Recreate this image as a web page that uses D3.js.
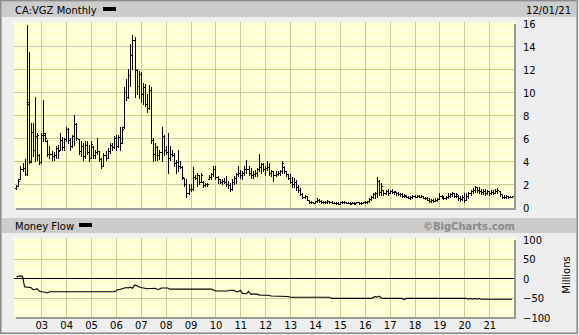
<!DOCTYPE html>
<html>
<head>
<meta charset="utf-8">
<script src="https://cdn.jsdelivr.net/npm/d3@7"></script>
<style>
body { margin: 0; background: #eeeeee; }
svg { display: block; }
</style>
</head>
<body>
<div id="chart"></div>
<script>
// Monthly OHLC, Jan 2002 .. Dec 2021 (one row per year)
const openVals = [
  1.65,1.8,2.4,3.3,3.4,2.9,9.0,4.0,6.5,5.0,6.2,4.5,
  3.9,6.3,6.3,5.7,4.6,4.6,4.4,4.5,5.1,5.0,5.8,5.2,
  5.9,6.8,5.8,5.3,6.2,7.2,5.9,4.9,5.3,4.4,5.4,4.8,
  4.3,5.2,4.5,4.8,4.9,4.2,3.6,4.5,4.3,4.9,5.4,5.2,
  6.0,5.3,6.1,5.6,7.0,10.0,9.6,11.5,13.2,14.5,11.9,10.5,
  11.6,9.8,10.4,9.0,8.6,10.2,5.8,4.6,5.2,4.5,4.8,6.2,
  5.0,4.8,4.3,4.6,4.5,3.8,3.9,3.6,3.5,2.5,2.0,1.2,
  1.6,1.6,2.6,2.5,2.8,2.2,2.2,1.9,2.0,2.4,2.6,2.9,
  3.3,2.6,2.4,2.2,2.3,2.2,2.0,1.9,1.6,2.2,2.5,2.9,
  3.0,2.8,3.0,3.3,3.3,3.0,2.8,2.9,3.0,3.3,3.5,3.7,
  3.3,3.4,3.5,3.0,3.1,2.8,2.9,3.0,3.1,3.5,3.1,2.9,
  2.5,2.2,2.0,2.2,1.7,1.5,1.1,0.85,0.95,0.6,0.4,0.45,
  0.38,0.5,0.65,0.55,0.45,0.4,0.45,0.5,0.42,0.38,0.35,0.32,
  0.3,0.4,0.45,0.4,0.38,0.35,0.32,0.38,0.32,0.4,0.32,0.35,
  0.4,0.42,0.5,0.7,0.85,1.1,1.2,2.3,1.3,1.45,1.2,1.4,
  1.2,1.4,1.3,1.3,1.2,1.15,1.1,1.0,1.0,0.9,0.8,0.9,
  0.95,0.9,0.95,0.9,0.95,0.8,0.75,0.65,0.55,0.6,0.5,0.65,
  0.7,1.0,0.9,0.8,0.85,1.0,1.1,1.2,1.0,1.0,0.8,0.7,
  0.9,0.6,1.0,1.2,1.4,1.5,1.7,1.5,1.4,1.3,1.4,1.2,
  1.35,1.2,1.3,1.25,1.4,1.4,1.1,0.9,0.85,0.95,0.85,0.9
];
const highVals = [
  1.9,2.4,3.6,3.8,4.2,15.8,13.5,7.3,7.3,9.6,6.4,4.6,
  6.4,9.3,6.4,5.8,5.3,4.9,4.8,5.3,5.4,6.4,6.1,6.0,
  7.0,6.9,6.0,6.3,8.0,7.3,5.9,5.7,5.6,5.7,5.7,5.4,
  5.7,5.3,5.0,6.0,4.9,4.3,4.7,4.9,5.1,5.6,5.6,6.2,
  6.3,6.3,7.0,7.0,10.4,11.1,12.0,14.2,15.0,14.8,12.0,11.8,
  11.7,10.8,10.7,9.8,10.6,10.4,6.0,5.6,5.3,5.0,7.0,6.3,
  5.3,6.4,5.3,5.0,4.7,4.1,5.0,4.0,3.6,2.5,2.4,2.0,
  2.0,3.5,2.8,3.0,2.8,3.0,2.25,2.1,2.1,2.8,3.0,3.55,
  3.55,2.7,2.4,2.4,2.5,2.7,2.25,2.1,2.4,2.7,3.0,3.55,
  3.26,3.1,3.55,4.1,3.55,3.4,3.1,3.26,3.4,4.6,3.84,3.84,
  3.55,4.0,3.8,3.26,3.1,3.1,3.1,3.26,4.0,3.55,3.1,2.9,
  2.9,2.6,2.5,2.35,1.9,1.62,1.19,1.04,0.96,0.6,0.55,0.46,
  0.55,0.75,0.67,0.6,0.55,0.52,0.6,0.55,0.52,0.46,0.41,0.41,
  0.46,0.55,0.55,0.46,0.46,0.46,0.43,0.43,0.46,0.43,0.43,0.46,
  0.49,0.55,0.75,0.96,1.19,1.33,2.64,2.35,2.06,1.48,1.48,1.54,
  1.48,1.54,1.42,1.33,1.3,1.25,1.19,1.13,1.04,0.96,0.96,1.04,
  1.04,1.01,1.04,1.01,0.96,0.9,0.84,0.75,0.7,0.67,0.75,0.78,
  1.19,1.04,0.96,0.96,1.19,1.25,1.33,1.25,1.19,1.04,0.96,1.04,
  1.19,1.19,1.33,1.48,1.62,1.83,1.77,1.71,1.54,1.54,1.54,1.48,
  1.42,1.48,1.48,1.54,1.62,1.42,1.13,1.04,1.04,0.96,0.99,0.96
];
const lowVals = [
  1.6,1.9,2.4,3.1,2.8,2.8,3.8,3.9,4.4,4.0,4.1,3.7,
  3.8,5.7,5.7,4.4,4.3,4.1,4.1,4.3,4.3,5.0,5.0,5.0,
  5.7,5.6,5.0,5.2,5.4,5.8,4.6,4.4,4.1,4.3,4.6,4.0,
  4.3,4.3,4.3,4.6,4.0,3.4,3.6,4.1,4.3,4.7,5.0,5.1,
  5.0,5.2,5.0,5.6,6.9,9.3,9.5,10.5,12.0,9.6,9.8,9.5,
  9.1,9.0,8.8,8.3,8.5,5.6,4.0,4.1,4.1,4.2,4.0,4.5,
  4.6,3.0,4.1,4.4,3.6,3.0,3.1,3.4,2.4,1.8,0.9,1.1,
  1.4,1.5,2.4,1.8,2.0,2.2,1.7,1.8,1.8,2.4,2.4,2.7,
  2.4,2.1,2.1,1.96,2.1,1.8,1.67,1.4,1.5,1.96,2.1,2.7,
  2.5,2.4,2.8,3.0,2.8,2.5,2.5,2.7,2.7,3.1,3.0,3.1,
  2.8,3.26,2.8,2.7,2.25,2.7,2.8,2.8,2.97,2.97,2.7,2.4,
  2.05,1.77,1.77,1.48,1.33,1.04,0.75,0.75,0.6,0.32,0.32,0.32,
  0.32,0.46,0.46,0.38,0.32,0.32,0.38,0.38,0.32,0.32,0.26,0.26,
  0.26,0.32,0.32,0.32,0.32,0.26,0.32,0.26,0.32,0.26,0.26,0.32,
  0.32,0.32,0.46,0.6,0.75,0.75,0.9,1.04,1.04,1.04,1.13,1.04,
  1.19,1.19,1.13,1.04,1.04,0.96,0.9,0.9,0.84,0.75,0.72,0.75,
  0.84,0.84,0.84,0.84,0.75,0.67,0.61,0.46,0.46,0.46,0.5,0.55,
  0.7,0.75,0.67,0.67,0.75,0.84,0.96,0.9,0.9,0.61,0.55,0.61,
  0.46,0.6,0.75,1.04,1.19,1.33,1.33,1.25,1.13,1.13,1.04,1.13,
  1.04,1.13,1.13,1.19,1.25,0.96,0.75,0.75,0.75,0.75,0.84,0.84
];
const closeVals = [
  1.8,2.3,3.3,3.4,2.9,9.1,3.9,6.5,5.0,6.2,6.3,3.9,
  6.3,6.4,6.0,4.6,4.6,4.4,4.5,5.1,4.9,5.8,5.2,5.9,
  6.8,5.8,5.3,6.2,7.2,6.0,4.9,5.3,4.4,5.4,4.8,4.3,
  5.5,4.5,4.8,4.9,4.2,3.6,4.5,4.3,4.9,5.4,5.2,6.0,
  5.3,6.1,5.6,6.8,10.0,9.6,11.5,13.2,14.5,11.9,10.5,11.6,
  9.8,10.4,9.0,8.6,10.2,5.8,4.6,5.2,4.5,4.8,6.2,5.0,
  4.8,4.3,4.6,4.5,3.8,3.9,3.6,3.5,2.6,2.0,1.2,1.6,
  1.6,2.6,2.5,2.8,2.2,2.8,1.9,2.0,2.0,2.6,2.9,3.3,
  2.6,2.4,2.2,2.3,2.2,2.0,1.9,1.6,2.2,2.5,2.9,3.0,
  2.8,3.0,3.3,3.3,3.0,2.8,2.9,3.0,3.3,3.5,3.7,3.3,
  3.4,3.5,3.0,3.1,2.8,2.9,3.0,3.1,3.8,3.1,2.9,2.5,
  2.2,2.0,2.2,1.7,1.5,1.1,0.85,0.95,0.65,0.4,0.45,0.38,
  0.5,0.65,0.55,0.45,0.4,0.45,0.5,0.42,0.38,0.35,0.32,0.3,
  0.4,0.45,0.4,0.38,0.35,0.3,0.38,0.3,0.4,0.32,0.35,0.4,
  0.42,0.5,0.7,0.85,1.1,1.2,2.3,1.3,1.8,1.2,1.4,1.2,
  1.4,1.3,1.35,1.2,1.15,1.1,1.0,1.05,0.9,0.8,0.9,0.95,
  0.9,0.95,0.9,0.95,0.8,0.75,0.65,0.55,0.6,0.5,0.65,0.7,
  1.0,0.9,0.8,0.85,1.0,1.1,1.2,1.0,1.1,0.8,0.7,0.9,
  0.6,1.0,1.2,1.4,1.5,1.7,1.5,1.4,1.3,1.4,1.2,1.35,
  1.2,1.3,1.25,1.4,1.5,1.1,0.9,0.85,0.95,0.85,0.9,0.92
];

// Money flow (millions), read at the turning points of the line
const mfMonths = ["2002-01","2002-03","2002-04","2002-05","2002-06","2002-08","2002-09","2002-10","2002-11","2002-12",
  "2003-01","2003-03","2003-04","2003-05","2005-12","2006-01","2006-02","2006-03","2006-04","2006-06","2006-07",
  "2006-08","2006-09","2006-10","2006-11","2006-12","2007-01","2007-03","2007-04","2007-08","2007-09","2007-10",
  "2007-11","2008-02","2008-03","2009-11","2009-12","2010-01","2010-07","2010-08","2010-10","2010-11","2010-12",
  "2011-01","2011-02","2011-04","2011-05","2011-06","2011-09","2011-10","2011-11","2012-02","2012-04","2012-12",
  "2013-01","2014-08","2014-09","2016-04","2016-05","2016-06","2016-07","2016-08","2016-09","2016-10","2017-07",
  "2017-08","2017-09","2020-02","2020-03","2020-04","2020-05","2020-06","2020-07","2020-08","2020-09","2021-12"];
const mfValues = [4,6,5,-22,-23,-24,-29,-29,-27,-33,
  -35,-36,-38,-35,-35,-33,-29,-29,-27,-24,-25,
  -23,-26,-18,-19,-22,-24,-26,-27,-26,-29,-28,
  -25,-25,-28,-28,-30,-33,-33,-31,-31,-35,-35,
  -31,-39,-40,-34,-41,-41,-43,-44,-44,-46,-47,
  -49,-49,-52,-52,-50,-47,-49,-46,-51,-52,-52,
  -55,-52,-52,-54,-52,-54,-52,-54,-52,-54,-54];

const yearTicks = [2003,2004,2005,2006,2007,2008,2009,2010,2011,2012,2013,2014,2015,2016,2017,2018,2019,2020,2021];
const yearLabels = ["03","04","05","06","07","08","09","10","11","12","13","14","15","16","17","18","19","20","21"];
const priceTicks = [0,2,4,6,8,10,12,14,16];
const mfTicks = [100,50,0,-50,-100];

const FONT = "'DejaVu Sans', Verdana, sans-serif";
const GRID = "#cbcb96";

const parseMonth = d3.timeParse("%Y-%m");
const months = d3.timeMonth.range(new Date(2002, 0, 1), new Date(2022, 0, 1));
const bars = months.map((d, i) => ({date: d, o: openVals[i], h: highVals[i], l: lowVals[i], c: closeVals[i]}));
const mf = mfMonths.map((m, i) => ({date: parseMonth(m), v: mfValues[i]}));
const yearDates = yearTicks.map(y => new Date(y, 0, 1));

const svg = d3.select("#chart").append("svg")
    .attr("width", 579)
    .attr("height", 335)
    .style("font-family", FONT);

// dithered yellow fill like the original
const pat = svg.append("defs").append("pattern")
    .attr("id", "dots").attr("width", 2).attr("height", 2)
    .attr("patternUnits", "userSpaceOnUse");
pat.append("rect").attr("width", 2).attr("height", 2).attr("fill", "#ffffe6");
pat.append("rect").attr("width", 1).attr("height", 1).attr("fill", "#ffffc6");
pat.append("rect").attr("x", 1).attr("y", 1).attr("width", 1).attr("height", 1).attr("fill", "#ffffc6");

svg.append("rect").attr("width", 579).attr("height", 335).attr("fill", "#eeeeee");

//Header bars
svg.append("rect").attr("x", 2).attr("y", 2).attr("width", 575).attr("height", 15).attr("fill", "#cccccc");
svg.append("rect").attr("x", 2).attr("y", 218).attr("width", 575).attr("height", 15).attr("fill", "#cccccc");

svg.append("text").attr("x", 15).attr("y", 14).attr("font-size", 10).text("CA:VGZ Monthly");
svg.append("rect").attr("x", 103).attr("y", 7).attr("width", 13).attr("height", 4).attr("fill", "#000");
svg.append("text").attr("x", 571).attr("y", 14).attr("font-size", 10).attr("text-anchor", "end").text("12/01/21");

svg.append("text").attr("x", 15).attr("y", 230).attr("font-size", 10).text("Money Flow");
svg.append("rect").attr("x", 79).attr("y", 223).attr("width", 13).attr("height", 4).attr("fill", "#000");
svg.append("text").attr("x", 515).attr("y", 229.5).attr("font-size", 10).attr("font-weight", "bold")
    .attr("fill", "#8a8a8a").attr("text-anchor", "end").text("\u00a9BigCharts.com");

//Scales
const x = d3.scaleTime().domain([new Date(2001, 10, 27), new Date(2021, 11, 30)]).range([14, 514]);
const y = d3.scaleLinear().domain([0, 16]).range([207, 23]);
const yMf = d3.scaleLinear().domain([-100, 100]).range([317, 239.5]);

const crisp = v => Math.round(v) + 0.5;

//Plot panels with a shadow on the right and bottom
function panel(top, bottom) {
    svg.append("rect").attr("x", 16).attr("y", top + 2).attr("width", 500).attr("height", bottom - top)
        .attr("fill", "#9a9a9a");
    svg.append("rect").attr("x", 14).attr("y", top).attr("width", 500).attr("height", bottom - top)
        .attr("fill", "url(#dots)");
}
panel(22, 208);
panel(238, 317);

//Grid lines
const grid = svg.append("g").attr("stroke", GRID).attr("stroke-width", 1).attr("shape-rendering", "crispEdges");
[[22, 208], [238, 317]].forEach(([t, b]) => {
    grid.selectAll(null).data(yearDates).enter().append("line")
        .attr("x1", d => crisp(x(d))).attr("x2", d => crisp(x(d)))
        .attr("y1", t).attr("y2", b);
});
grid.selectAll(null).data(priceTicks.filter(v => v > 0 && v < 16)).enter().append("line")
    .attr("x1", 14).attr("x2", 514)
    .attr("y1", d => crisp(y(d))).attr("y2", d => crisp(y(d)));
grid.selectAll(null).data([50, -50]).enter().append("line")
    .attr("x1", 14).attr("x2", 514)
    .attr("y1", d => crisp(yMf(d))).attr("y2", d => crisp(yMf(d)));

//OHLC bars
svg.append("g")
    .attr("stroke", "#000").attr("fill", "none").attr("stroke-width", 1)
    .attr("shape-rendering", "crispEdges")
    .selectAll("path").data(bars).enter().append("path")
    .attr("d", d => {
        const cx = crisp(x(d.date));
        const yh = Math.round(y(d.h)), yl = Math.round(y(d.l)) + 1;
        const yo = crisp(y(d.o)), yc = crisp(y(d.c));
        return "M" + cx + "," + yh + "V" + yl +
               "M" + (cx - 1.5) + "," + yo + "H" + cx +
               "M" + cx + "," + yc + "H" + (cx + 1.5);
    });

//Money flow zero line and line
svg.append("line").attr("x1", 14).attr("x2", 514)
    .attr("y1", crisp(yMf(0))).attr("y2", crisp(yMf(0)))
    .attr("stroke", "#000").attr("shape-rendering", "crispEdges");

const mfLine = d3.line().x(d => x(d.date)).y(d => yMf(d.v));
svg.append("path").datum(mf)
    .attr("d", mfLine)
    .attr("fill", "none").attr("stroke", "#000").attr("stroke-width", 1.1);

//Axes (labels only)
const yAxis = svg.append("g").attr("transform", "translate(523,0)")
    .call(d3.axisRight(y).tickValues(priceTicks).tickSize(0).tickPadding(0));
const mfAxis = svg.append("g").attr("transform", "translate(523,0)")
    .call(d3.axisRight(yMf).tickValues(mfTicks).tickSize(0).tickPadding(0)
        .tickFormat(d => d < 0 ? "\u2212" + Math.abs(d) : d));
const xAxis = svg.append("g").attr("transform", "translate(0,322)")
    .call(d3.axisBottom(x).tickValues(yearDates).tickSize(0).tickPadding(0)
        .tickFormat((d, i) => yearLabels[i]));
[yAxis, mfAxis, xAxis].forEach(a => {
    a.select(".domain").remove();
    a.attr("font-family", FONT).attr("font-size", 10);
    a.selectAll("text").attr("fill", "#000");
});
yAxis.selectAll("text").attr("dy", "0.4em");
mfAxis.selectAll("text").attr("dy", "0.4em");

svg.append("text")
    .attr("transform", "translate(570,275) rotate(-90)")
    .attr("text-anchor", "middle").attr("font-size", 10)
    .text("Millions");

//Outer frame
svg.append("rect").attr("x", 0.5).attr("y", 0.5).attr("width", 577).attr("height", 333)
    .attr("fill", "none").attr("stroke", "#8c8c8c").attr("stroke-width", 1);
svg.append("rect").attr("x", 1.5).attr("y", 1.5).attr("width", 575).attr("height", 331)
    .attr("fill", "none").attr("stroke", "#b4b4b4").attr("stroke-width", 1);
</script>
</body>
</html>
